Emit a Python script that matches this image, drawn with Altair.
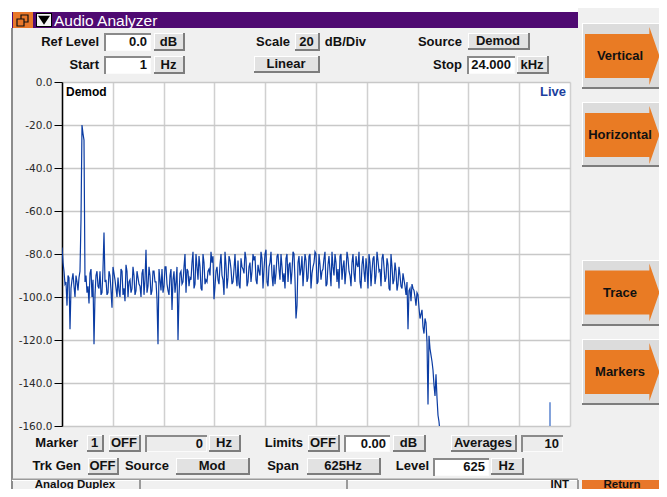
import altair as alt
import pandas as pd

# ---------------- data ----------------
SPAN_HZ = 24000          # Start 1 Hz ... Stop 24.000 kHz, linear
N_STEPS = 508            # trace points are one screen pixel apart

# trace values at the even and the odd pixel columns of the plot (dB)
trace_even_db = [
    -77, -88, -93, -90, -115, -92, -95, -90, -97, -88,
    -20, -27, -90, -95, -89, -100, -122, -90, -95, -88,
    -98, -70, -92, -98, -90, -105, -89, -96, -91, -100,
    -88, -96, -85, -100, -92, -96, -90, -97, -91, -95,
    -89, -99, -78, -95, -90, -97, -88, -93, -122, -92,
    -87, -95, -86, -97, -90, -106, -88, -93, -120, -89,
    -94, -86, -98, -88, -91, -84, -96, -80, -92, -86,
    -97, -84, -92, -88, -90, -84, -101, -88, -92, -85,
    -90, -99, -85, -91, -83, -94, -87, -90, -83, -96,
    -86, -89, -82, -93, -84, -88, -83, -92, -85, -90,
    -82, -87, -78, -95, -84, -90, -85, -89, -80, -92,
    -86, -89, -82, -93, -84, -88, -80, -110, -84, -90,
    -81, -87, -83, -91, -80, -89, -84, -80, -93, -85,
    -88, -82, -95, -85, -88, -79, -90, -84, -87, -81,
    -92, -83, -88, -82, -90, -84, -89, -81, -86, -93,
    -85, -88, -82, -96, -84, -88, -81, -90, -83, -87,
    -82, -86, -91, -85, -97, -86, -92, -88, -94, -90,
    -96, -92, -99, -115, -96, -94, -97, -104, -99, -110,
    -106, -117, -112, -150, -124, -130, -141, -136, -155, -163,
]
trace_odd_db = [
    -84, -94, -104, -91, -96, -89, -100, -93, -91, -64,
    -24, -93, -98, -103, -87, -92, -99, -88, -96, -99,
    -87, -93, -99, -88, -97, -86, -92, -100, -97, -87,
    -99, -102, -88, -93, -98, -86, -99, -88, -94, -100,
    -87, -92, -98, -86, -99, -88, -93, -101, -87, -97,
    -98, -86, -94, -99, -87, -92, -98, -86, -99, -88,
    -93, -80, -87, -95, -92, -79, -94, -86, -81, -96,
    -80, -94, -93, -87, -79, -81, -95, -86, -94, -80,
    -92, -79, -96, -81, -87, -93, -80, -95, -94, -82,
    -87, -79, -95, -86, -93, -80, -81, -94, -88, -79,
    -96, -80, -93, -86, -79, -95, -94, -81, -87, -80,
    -93, -96, -80, -85, -94, -79, -92, -104, -81, -87,
    -95, -80, -93, -81, -96, -86, -79, -94, -80, -92,
    -87, -79, -94, -81, -95, -86, -80, -93, -96, -80,
    -86, -94, -79, -88, -95, -80, -93, -85, -79, -96,
    -81, -93, -87, -80, -95, -82, -94, -79, -88, -95,
    -80, -93, -82, -96, -80, -94, -84, -97, -86, -95,
    -89, -95, -93, -97, -102, -96, -100, -98, -105, -108,
    -114, -110, -121, -118, -127, -134, -146, -147, -158, -166,
]
spike_hz = [23055]
spike_peak_db = [-149]
spike_base_db = [-160]

y_tick_values = [-160, -140, -120, -100, -80, -60, -40, -20, 0]
x_grid_hz = [0, 2400, 4800, 7200, 9600, 12000, 14400, 16800, 19200, 21600, 24000]

# ---------------- layout (page pixels, decoration only) ----------------
OX, OY = 62, 82          # page position of the plot-area origin
W, H = 508, 344

rects = []
def add_rect(x0, y0, x1, y1, fill):
    rects.append(dict(x=x0 - OX, x2=x1 - OX, y=y0 - OY, y2=y1 - OY, f=fill))

def raised(x0, y0, x1, y1, face="#e2e2e2"):
    add_rect(x0, y0, x1, y1, "#7d7d7d")
    add_rect(x0, y0, x1 - 2, y1 - 2, "#ffffff")
    add_rect(x0 + 1, y0 + 1, x1 - 2, y1 - 2, face)

def sunken(x0, y0, x1, y1, face="#ffffff"):
    add_rect(x0, y0, x1, y1, "#8a8a8a")
    add_rect(x0 + 2, y0 + 2, x1, y1, "#fbfbfb")
    add_rect(x0 + 2, y0 + 2, x1 - 1, y1 - 1, face)

# background strips / window frame
add_rect(8, 8, 12, 497, "#ffffff")
add_rect(8, 8, 578, 12, "#ffffff")
add_rect(11, 28, 13, 497, "#8c8c8c")
add_rect(12, 12, 578, 28, "#4f0a72")            # title bar
add_rect(13, 12, 33, 28, "#e8772a")             # restore icon bg
add_rect(12, 478.5, 578, 480, "#9a9a9a")        # status bar
add_rect(12, 480, 578, 481, "#ffffff")
add_rect(139, 480, 141, 497, "#9a9a9a")
add_rect(346, 480, 348, 497, "#9a9a9a")
add_rect(577, 480, 579, 497, "#9a9a9a")
add_rect(582, 480, 663, 497, "#e8772a")         # Return

raised_boxes = [
    ("dB", 154, 33, 185, 51), ("20", 295, 33, 320, 51), ("Demod", 468, 33, 530, 50),
    ("Hz", 154, 56, 185, 74), ("Linear", 254, 56, 320, 73), ("kHz", 517, 56, 549, 74),
    ("1", 87, 435, 104, 452), ("OFF", 109, 435, 141, 452), ("Hz", 209, 435, 241, 452),
    ("OFF", 308, 435, 340, 452), ("dB", 393, 435, 426, 452), ("Averages", 451, 435, 517, 452),
    ("OFF", 88, 458, 119, 475), ("Mod", 176, 458, 250, 475), ("625Hz", 307, 458, 381, 475),
    ("Hz", 491, 458, 524, 475),
]
sunken_boxes = [
    ("0.0", 104, 33, 151, 51, "#ffffff"), ("1", 104, 56, 151, 74, "#ffffff"),
    ("24.000", 467, 56, 515, 74, "#ffffff"), ("0", 145, 435, 207, 452, "#ececec"),
    ("0.00", 344, 435, 390, 452, "#ffffff"), ("10", 521, 435, 563, 452, "#ececec"),
    ("625", 433, 458, 489, 476, "#ffffff"),
]
side_buttons = [("Vertical", 23, 89, 56), ("Horizontal", 102, 167, 135),
                ("Trace", 260, 326, 292.5), ("Markers", 339, 405, 372)]
labels_right = [
    ("Ref Level", 99, 42), ("Scale", 290, 42), ("dB/Div", 366, 42), ("Source", 462, 42),
    ("Start", 99, 65), ("Stop", 462, 65), ("Marker", 78, 443), ("Limits", 303, 443),
    ("Trk Gen", 81, 466), ("Source", 169, 466), ("Span", 299, 466), ("Level", 429, 466),
]

for t, x0, y0, x1, y1 in raised_boxes:
    raised(x0, y0, x1, y1)
for t, x0, y0, x1, y1, face in sunken_boxes:
    sunken(x0, y0, x1, y1, face)
for t, y0, y1, yc in side_buttons:
    raised(582, y0, 662, y1, "#dcdcdc")
add_rect(36, 13, 52, 27, "#000000")
add_rect(37, 14, 51, 26, "#f4f4f4")

text_right = [dict(x=x - OX, y=y - OY, t=t, c="#111111") for t, x, y in labels_right]
text_right += [dict(x=x1 - 4 - OX, y=(y0 + y1) / 2 - OY, t=t, c="#111111")
               for t, x0, y0, x1, y1, face in sunken_boxes]
text_right += [dict(x=566 - OX, y=92 - OY, t="Live", c="#1c3f9e")]
text_center = [dict(x=(x0 + x1 - 2) / 2 - OX, y=(y0 + y1 - 1) / 2 - OY, t=t, c="#111111")
               for t, x0, y0, x1, y1 in raised_boxes]
text_center += [dict(x=620 - OX, y=yc - OY, t=t, c="#111111") for t, y0, y1, yc in side_buttons]
status_center = [dict(x=75 - OX, y=484.5 - OY, t="Analog Duplex", c="#111111"),
                 dict(x=622 - OX, y=484.5 - OY, t="Return", c="#111111")]
status_right = [dict(x=569 - OX, y=484.5 - OY, t="INT", c="#111111")]
text_left = [dict(x=66 - OX, y=92 - OY, t="Demod", c="#000000")]
title_text = [dict(x=54 - OX, y=20.5 - OY, t="Audio Analyzer", c="#ffffff")]
arrows = [dict(x=622.2 - OX, y=yc - OY) for t, y0, y1, yc in side_buttons]
icon_boxes = [dict(x=21 - OX, x2=28 - OX, y=15 - OY, y2=22 - OY),
              dict(x=17 - OX, x2=24 - OX, y=19 - OY, y2=26 - OY)]
tri = [dict(x=44 - OX, y=20 - OY)]

ARROW = "M-1,-0.59L0.73,-0.59L0.73,-0.78L1,0L0.73,0.78L0.73,0.59L-1,0.59Z"
TRI = "M-1,-0.7L1,-0.7L0,0.8Z"
FONT = "Liberation Sans"

# ---------------- charts ----------------
trace_db = []
for even_v, odd_v in zip(trace_even_db, trace_odd_db):
    trace_db += [even_v, odd_v]
trace_df = pd.DataFrame({"hz": [k * SPAN_HZ / N_STEPS for k in range(len(trace_db))],
                         "db": trace_db})
spike_df = pd.DataFrame({"hz": spike_hz, "peak": spike_peak_db, "base": spike_base_db})

xs = alt.Scale(domain=[0, SPAN_HZ], nice=False, zero=False)
ys = alt.Scale(domain=[-160, 0], nice=False, zero=False)

line = alt.Chart(trace_df).mark_line(color="#0b3ca3", strokeWidth=1.2, clip=True).encode(
    x=alt.X("hz:Q", scale=xs, axis=alt.Axis(values=x_grid_hz, grid=True, labels=False, ticks=False,
                                             domain=False, title=None, gridColor="#d0d0d0",
                                             gridWidth=1.5)),
    y=alt.Y("db:Q", scale=ys, axis=alt.Axis(
        values=y_tick_values,
        labelExpr="datum.value == 0 ? '0.0' : '-' + format(-datum.value, '.1f')",
        labelFont="DejaVu Sans", labelFontSize=10.5, labelColor="#2a2a2a", labelPadding=2,
        labelFlush=False, tickSize=8, tickColor="#000000", tickWidth=1,
        domainColor="#000000", domainWidth=1.5, gridColor="#c8c8c8", gridWidth=1.5,
        title=None)),
)
spike = alt.Chart(spike_df).mark_rule(color="#5b84cf", strokeWidth=1.5).encode(
    x=alt.X("hz:Q", scale=xs, axis=None),
    y=alt.Y("peak:Q", scale=ys, axis=None),
    y2="base:Q",
)

def px(field="x"):
    return alt.X(f"{field}:Q", scale=None, axis=None)

def py(field="y"):
    return alt.Y(f"{field}:Q", scale=None, axis=None)

rect_layer = alt.Chart(pd.DataFrame(rects)).mark_rect().encode(
    x=px(), x2="x2:Q", y=py(), y2="y2:Q", fill=alt.Fill("f:N", scale=None))
icon_layer = alt.Chart(pd.DataFrame(icon_boxes)).mark_rect(
    fill="#e8772a", stroke="#111111", strokeWidth=1.2).encode(x=px(), x2="x2:Q", y=py(), y2="y2:Q")
tri_layer = alt.Chart(pd.DataFrame(tri)).mark_point(
    shape=TRI, filled=True, size=144, opacity=1, color="#000000").encode(x=px(), y=py())
arrow_layer = alt.Chart(pd.DataFrame(arrows)).mark_point(
    shape=ARROW, filled=True, size=5535, opacity=1, color="#e97b24").encode(x=px(), y=py())

def text_layer(rows, align, size=13, weight="bold"):
    return alt.Chart(pd.DataFrame(rows)).mark_text(
        align=align, baseline="middle", font=FONT, fontSize=size, fontWeight=weight).encode(
        x=px(), y=py(), text="t:N", color=alt.Color("c:N", scale=None))

chart = alt.layer(
    line, spike, rect_layer, icon_layer, tri_layer, arrow_layer,
    text_layer(text_right, "right"),
    text_layer(text_center, "center"),
    text_layer(status_center, "center", size=11.5),
    text_layer(status_right, "right", size=11.5),
    text_layer(text_left, "left", size=12),
    text_layer(title_text, "left", size=15.5, weight="normal"),
).resolve_scale(
    x="independent", y="independent", color="independent", fill="independent"
).properties(
    width=W, height=H,
    padding={"left": 54, "top": 74, "right": 89, "bottom": 63},
    autosize=alt.AutoSizeParams(type="none"),
    background="#f0f0f0",
).configure_view(fill="#ffffff", stroke="transparent")

chart.save("out.html", embed_options={"renderer": "svg", "actions": False})
